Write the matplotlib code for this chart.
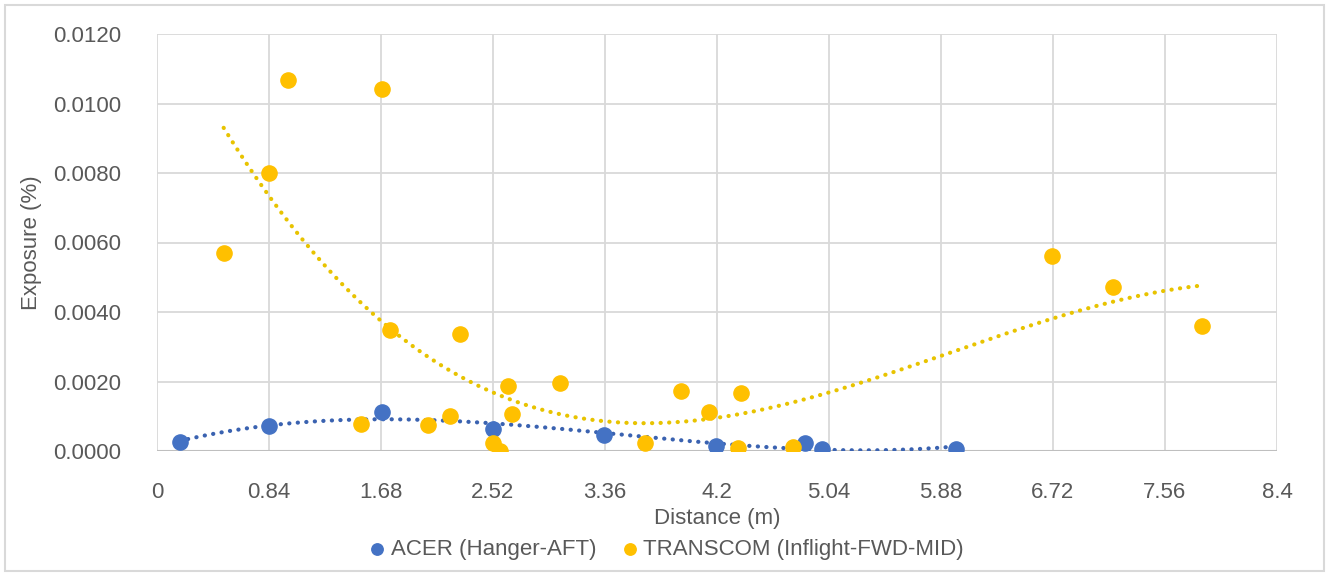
import numpy as np
import matplotlib.pyplot as plt
from matplotlib.patches import Rectangle

plt.rcParams['font.family'] = ['Liberation Sans', 'DejaVu Sans']

# ACER (Hanger-AFT)
acer_x = [0.17, 0.84, 1.69, 2.52, 3.35, 4.19, 4.86, 4.99, 5.99]
acer_y = [0.00025, 0.00073, 0.00112, 0.00063, 0.00047, 0.00014, 0.00024, 0.00005, 0.00007]

# TRANSCOM (Inflight-FWD-MID)
trans_x = [0.50, 0.84, 0.985, 1.686, 1.75, 1.53, 2.03, 2.20, 2.27, 2.52, 2.57, 2.63,
           2.66, 3.02, 3.66, 3.93, 4.14, 4.38, 4.36, 4.77, 6.71, 7.17, 7.84]
trans_y = [0.00571, 0.00800, 0.01068, 0.01042, 0.00347, 0.00078, 0.00076, 0.00101,
           0.00336, 0.00023, 0.00000, 0.00187, 0.00107, 0.00195, 0.00022, 0.00172,
           0.00113, 0.00166, 0.00009, 0.00012, 0.00561, 0.00473, 0.00361]

x_ticks = [0, 0.84, 1.68, 2.52, 3.36, 4.2, 5.04, 5.88, 6.72, 7.56, 8.4]
x_labels = ["0", "0.84", "1.68", "2.52", "3.36", "4.2", "5.04", "5.88", "6.72", "7.56", "8.4"]
y_ticks = [0, 0.002, 0.004, 0.006, 0.008, 0.010, 0.012]

blue = "#4472C4"
gold = "#FFC000"
grey_txt = "#595959"

fig = plt.figure(figsize=(13.29, 5.76), dpi=100)
ax = fig.add_axes([157/1329, 1 - 451/576, (1277 - 157)/1329, (451 - 34)/576])

# polynomial trendlines (order 3), like Excel
for xs, ys, lc in [(acer_x, acer_y, "#3A62B0"), (trans_x, trans_y, "#E8C300")]:
    p = np.polyfit(xs, ys, 3)
    xx = np.linspace(min(xs), max(xs), 300)
    ax.plot(xx, np.polyval(p, xx), color=lc, lw=3.0, ls=(0, (0.05, 2.0)),
            dash_capstyle="round", zorder=2)

ax.scatter(acer_x, acer_y, s=120, color=blue, zorder=3, label="ACER (Hanger-AFT)")
ax.scatter(trans_x, trans_y, s=120, color=gold, zorder=3, label="TRANSCOM (Inflight-FWD-MID)")

ax.set_xlim(0, 8.4)
ax.set_ylim(0, 0.012)
ax.set_xticks(x_ticks)
ax.set_xticklabels(x_labels)
ax.set_yticks(y_ticks)
ax.set_yticklabels([f"{v:.4f}" for v in y_ticks])
ax.tick_params(length=0, labelsize=16, colors=grey_txt)
ax.tick_params(axis='y', pad=26)
ax.tick_params(axis='x', pad=22)
ax.grid(True, color="#D9D9D9", lw=1.3)
ax.set_axisbelow(True)
for s in ax.spines.values():
    s.set_visible(False)
ax.axhline(0, color="#BFBFBF", lw=1.5, zorder=1)

ax.set_xlabel("Distance (m)", fontsize=16, color=grey_txt, labelpad=4)
ax.set_ylabel("Exposure (%)", fontsize=16, color=grey_txt, labelpad=8)

fig.legend(*ax.get_legend_handles_labels(), loc="center", bbox_to_anchor=(665/1329, 1 - 549/576),
           ncol=2, frameon=False, fontsize=16, labelcolor=grey_txt, handletextpad=0.1,
           columnspacing=1.0, markerscale=0.75, handlelength=1.0, borderpad=0.1)

fig.patches.append(Rectangle((0.004, 0.008), 0.992, 0.984, transform=fig.transFigure,
                             fill=False, edgecolor="#D9D9D9", lw=1.5))

fig.savefig("out.png", dpi=100)
